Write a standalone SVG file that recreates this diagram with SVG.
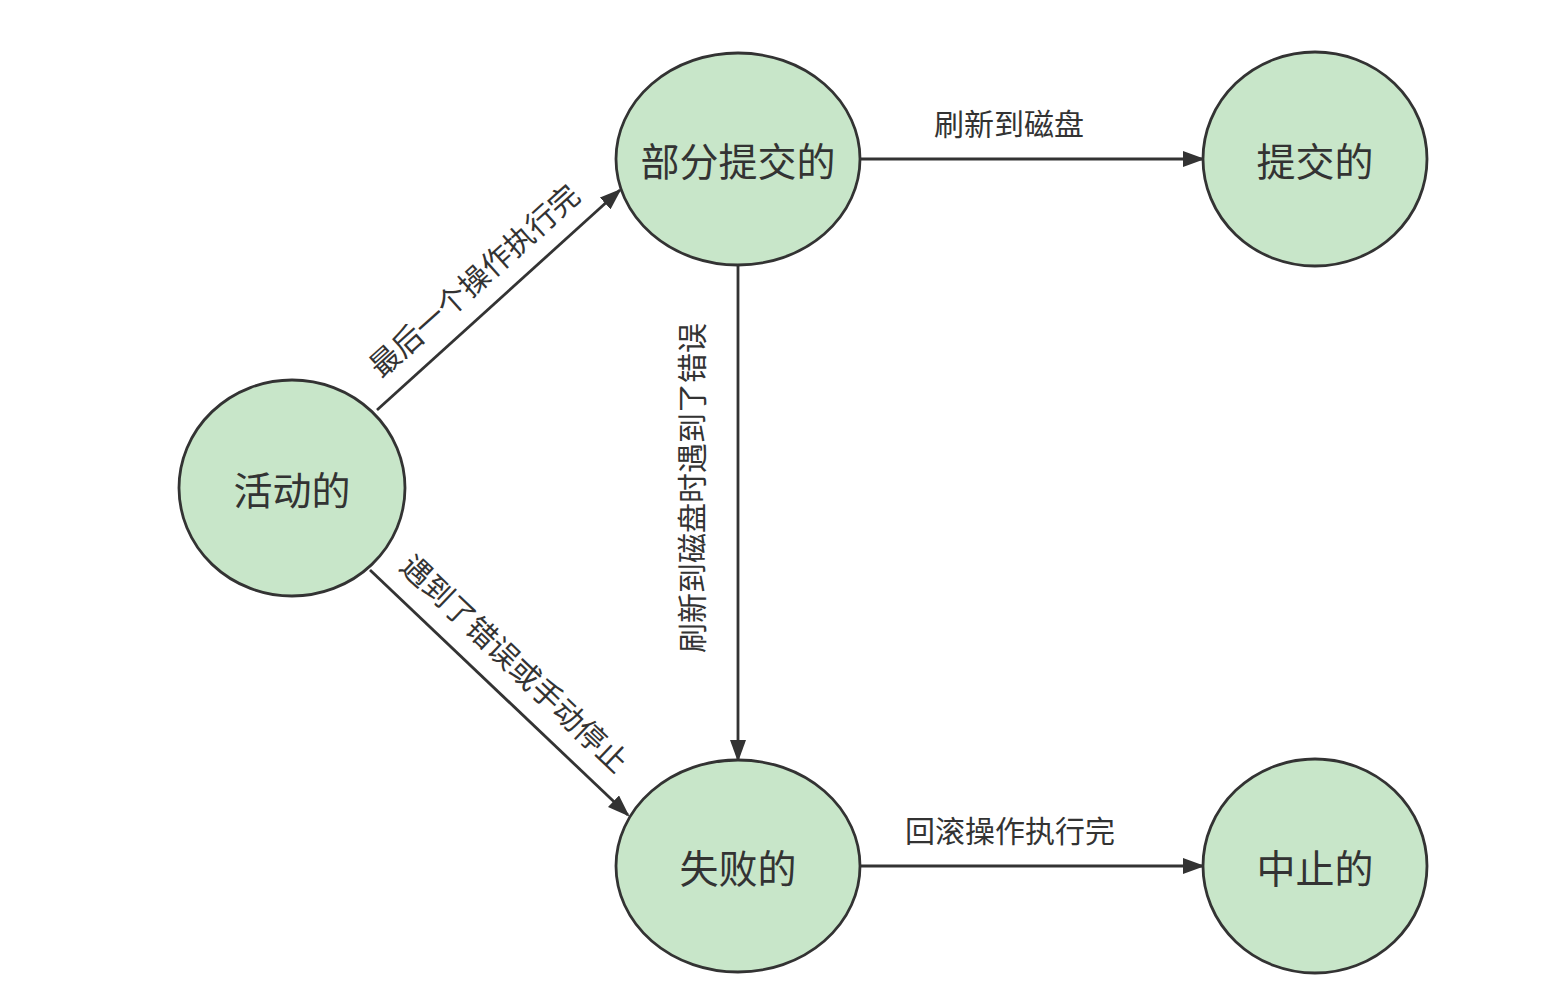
<svg xmlns="http://www.w3.org/2000/svg" width="1561" height="998" viewBox="0 0 1561 998">
<style>
.node ellipse{fill:#c8e6c9;stroke:#333;stroke-width:2.8}
.node text{font-family:"Noto Sans CJK SC","Noto Sans",sans-serif;font-size:39px;fill:#333;text-anchor:middle;dominant-baseline:central}
.edge{stroke:#333;stroke-width:2.8;fill:none;marker-end:url(#arr)}
.lbl{font-family:"Noto Sans CJK SC","Noto Sans",sans-serif;font-size:30px;fill:#333;text-anchor:middle;dominant-baseline:central}
</style>
<defs>
<marker id="arr" viewBox="0 0 22 16" refX="20" refY="8" markerWidth="22" markerHeight="16" markerUnits="userSpaceOnUse" orient="auto">
<path d="M0,0 L22,8 L0,16 z" fill="#333"/>
</marker>
</defs>
<rect width="1561" height="998" fill="#fff"/>
<g id="connectors">
<path class="edge" d="M377,410 L620,190"/>
<path class="edge" d="M370,570 L628,815"/>
<path class="edge" d="M738,266 L738,760"/>
<path class="edge" d="M861,159 L1203,159"/>
<path class="edge" d="M861,866 L1203,866"/>
<text class="lbl" transform="translate(473,279) rotate(-42)">最后一个操作执行完</text>
<text class="lbl" transform="translate(516,662) rotate(43.5)">遇到了错误或手动停止</text>
<text class="lbl" transform="translate(690,488) rotate(-90)">刷新到磁盘时遇到了错误</text>
<text class="lbl" x="1009" y="122">刷新到磁盘</text>
<text class="lbl" x="1010" y="829">回滚操作执行完</text>
</g>
<g id="n-active" class="node"><ellipse cx="292" cy="488" rx="113" ry="108"/><text x="292" y="488">活动的</text></g>
<g id="n-partial" class="node"><ellipse cx="738" cy="159" rx="122" ry="106"/><text x="738" y="159">部分提交的</text></g>
<g id="n-committed" class="node"><ellipse cx="1315" cy="159" rx="112" ry="107"/><text x="1315" y="159">提交的</text></g>
<g id="n-failed" class="node"><ellipse cx="738" cy="866" rx="122" ry="106"/><text x="738" y="866">失败的</text></g>
<g id="n-aborted" class="node"><ellipse cx="1315" cy="866" rx="112" ry="107"/><text x="1315" y="866">中止的</text></g>
</svg>
